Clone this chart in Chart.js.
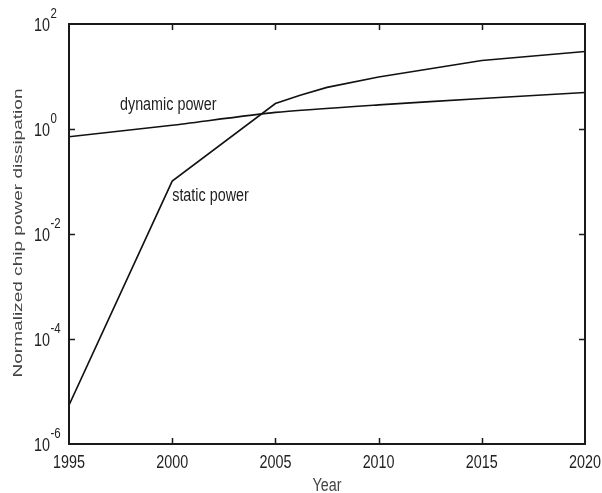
<!DOCTYPE html>
<html>
<head>
<meta charset="utf-8">
<script src="https://cdn.jsdelivr.net/npm/chart.js@4/dist/chart.umd.min.js"></script>
<style>
  html, body { margin: 0; padding: 0; background: #fff; }
  #wrap { width: 602px; height: 493px; position: relative; }
</style>
</head>
<body>
<div id="wrap"><canvas id="c" width="602" height="493"></canvas></div>
<script>
// ---- data ----
const dynamicYears = [1995, 2000, 2005, 2010, 2015, 2020];
const dynamicPower = [0.71, 1.18, 2.07, 2.88, 3.81, 4.95];

const staticYears = [1995, 2000, 2005, 2006.2, 2007.5, 2010, 2012.5, 2015, 2017.5, 2020];
const staticPower = [5.5e-6, 0.102, 3.06, 4.4, 6.2, 9.75, 14.0, 20.2, 24.6, 29.9];

const xTicks = [1995, 2000, 2005, 2010, 2015, 2020];
const yTickExponents = [-6, -4, -2, 0, 2];

const seriesLabels = ['dynamic power', 'static power'];
const labelAnchorYears = [1997.47, 2000.0];
const labelAnchorValues = [2.3, 0.0416];

const xTitle = 'Year';
const yTitle = 'Normalized chip power dissipation';

// ---- build ----
const toPoints = (xs, ys) => xs.map((x, i) => ({ x: x, y: ys[i] }));
const FONT = '"Liberation Sans", Arial, sans-serif';
const SQUEEZE = 0.82;

function drawText(ctx, text, x, y, align, size, color) {
  ctx.save();
  ctx.font = size + 'px ' + FONT;
  ctx.fillStyle = color;
  ctx.textAlign = align;
  ctx.textBaseline = 'alphabetic';
  ctx.translate(x, y);
  ctx.scale(SQUEEZE, 1);
  ctx.fillText(text, 0, 0);
  ctx.restore();
}

const decor = {
  id: 'decor',
  afterDraw(chart) {
    const ctx = chart.ctx;
    const a = chart.chartArea;
    const xs = chart.scales.x, ys = chart.scales.y;
    ctx.save();
    // box
    ctx.strokeStyle = '#1a1a1a';
    ctx.lineWidth = 2;
    ctx.strokeRect(a.left, a.top, a.right - a.left, a.bottom - a.top);
    // inward ticks
    ctx.lineWidth = 1.5;
    const tl = 6;
    xTicks.forEach(v => {
      const px = Math.round(xs.getPixelForValue(v)) + 0.5;
      if (px > a.left + 2 && px < a.right - 2) {
        ctx.beginPath();
        ctx.moveTo(px, a.bottom); ctx.lineTo(px, a.bottom - tl);
        ctx.moveTo(px, a.top); ctx.lineTo(px, a.top + tl);
        ctx.stroke();
      }
    });
    yTickExponents.forEach(e => {
      const py = Math.round(ys.getPixelForValue(Math.pow(10, e))) + 0.5;
      if (py > a.top + 2 && py < a.bottom - 2) {
        ctx.beginPath();
        ctx.moveTo(a.left, py); ctx.lineTo(a.left + tl, py);
        ctx.moveTo(a.right, py); ctx.lineTo(a.right - tl, py);
        ctx.stroke();
      }
    });
    // x tick labels
    xTicks.forEach(v => {
      drawText(ctx, String(v), xs.getPixelForValue(v), a.bottom + 24, 'center', 17.5, '#222');
    });
    // y tick labels 10^e
    yTickExponents.forEach(e => {
      const py = ys.getPixelForValue(Math.pow(10, e));
      drawText(ctx, '10', a.left - 19, py + 6.5, 'right', 17.5, '#222');
      drawText(ctx, String(e), a.left - 18.5, py - 6, 'left', 14, '#222');
    });
    // x title
    drawText(ctx, xTitle, (a.left + a.right) / 2, 491, 'center', 17.5, '#444');
    // y title (rotated, stretched along its length like the reference)
    ctx.save();
    ctx.fillStyle = '#444';
    ctx.font = '12.6px ' + FONT;
    const w = ctx.measureText(yTitle).width;
    const target = 289;
    ctx.translate(21.5, (a.top + a.bottom) / 2 - 1);
    ctx.rotate(-Math.PI / 2);
    ctx.scale(target / w, 1);
    ctx.textAlign = 'center';
    ctx.fillText(yTitle, 0, 0);
    ctx.restore();
    // series annotations
    seriesLabels.forEach((t, i) => {
      drawText(ctx, t, xs.getPixelForValue(labelAnchorYears[i]), ys.getPixelForValue(labelAnchorValues[i]), 'left', 17.5, '#222');
    });
    ctx.restore();
  }
};

new Chart(document.getElementById('c'), {
  type: 'line',
  data: {
    datasets: [
      {
        label: seriesLabels[0],
        data: toPoints(dynamicYears, dynamicPower),
        borderColor: '#111',
        borderWidth: 1.6,
        pointRadius: 0,
        tension: 0.2,
        fill: false
      },
      {
        label: seriesLabels[1],
        data: toPoints(staticYears, staticPower),
        borderColor: '#111',
        borderWidth: 1.6,
        pointRadius: 0,
        tension: 0,
        fill: false
      }
    ]
  },
  options: {
    responsive: false,
    animation: false,
    events: [],
    layout: { padding: { left: 69, right: 17, top: 24, bottom: 49 } },
    plugins: { legend: { display: false }, tooltip: { enabled: false } },
    scales: {
      x: { type: 'linear', min: 1995, max: 2020, display: false },
      y: { type: 'logarithmic', min: 1e-6, max: 1e2, display: false }
    }
  },
  plugins: [decor]
});
</script>
</body>
</html>
